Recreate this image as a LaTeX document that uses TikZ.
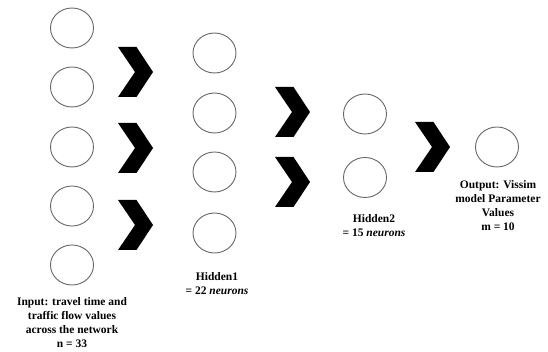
\documentclass[tikz,border=0pt]{standalone}
\usepackage{fontspec}
\setmainfont{Liberation Serif}
\usepackage{tikz}
\usetikzlibrary{shapes.geometric}

\tikzset{
	neuron/.style={ellipse, draw=black!60, line width=0.9pt, minimum width=43pt, minimum height=40pt, inner sep=0pt},
	layerlabel/.style={align=center, font=\bfseries\fontsize{11.5}{14}\selectfont},
	chevron/.pic={\fill (-17.5,-25) -- (1,-25) -- (17.5,0) -- (1,25) -- (-17.5,25) -- (-0.5,0) -- cycle;}
}

\begin{document}
\begin{tikzpicture}[x=1pt,y=-1pt]
		\useasboundingbox (0,0) rectangle (548,352);

		% input layer
		\node[neuron] (in1) at (72,28) {};
		\node[neuron] (in2) at (72,87) {};
		\node[neuron] (in3) at (72,147) {};
		\node[neuron] (in4) at (72,206) {};
		\node[neuron] (in5) at (72,265) {};
		\node[layerlabel] (inlabel) at (72,323) {Input: travel time and\\traffic flow values\\across the network\\n = 33};

		\pic at (135.5,72) {chevron};
		\pic at (135.5,148) {chevron};
		\pic at (135.5,225) {chevron};

		% hidden layer 1
		\node[neuron] (ha1) at (214.5,53) {};
		\node[neuron] (ha2) at (214.5,113) {};
		\node[neuron] (ha3) at (214.5,172) {};
		\node[neuron] (ha4) at (214.5,233) {};
		\node[layerlabel] (halabel) at (217,284) {Hidden1\\= 22 \textit{neurons}};

		\pic at (292.5,112) {chevron};
		\pic at (292.5,182) {chevron};

		% hidden layer 2
		\node[neuron] (hb1) at (365,114) {};
		\node[neuron] (hb2) at (365,177.5) {};
		\node[layerlabel] (hblabel) at (374,226) {Hidden2\\= 15 \textit{neurons}};

		\pic at (432.5,147) {chevron};

		% output layer
		\node[neuron] (out1) at (497,147) {};
		\node[layerlabel] (outlabel) at (498,206) {Output: Vissim\\model Parameter\\Values\\m = 10};
	\end{tikzpicture}
\end{document}
